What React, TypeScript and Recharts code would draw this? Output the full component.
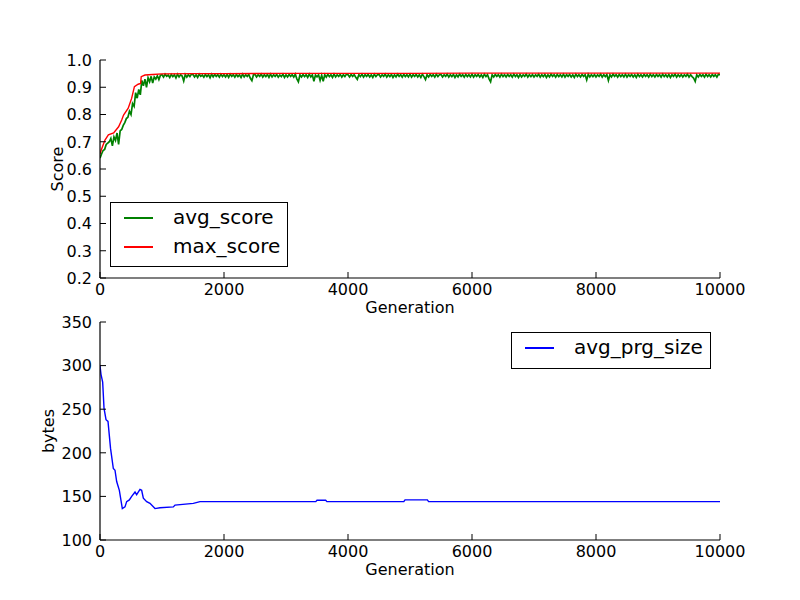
import { Legend, Line, LineChart, XAxis, YAxis } from 'recharts'

const FONT = '"DejaVu Sans", sans-serif'

const genTicks = [0, 2000, 4000, 6000, 8000, 10000]
const scoreTicks = [0.2, 0.3, 0.4, 0.5, 0.6, 0.7, 0.8, 0.9, 1.0]
const bytesTicks = [100, 150, 200, 250, 300, 350]

// avg_score, one sample every 25 generations, 0..975
const avgScoreEarly = [
  0.640, 0.655, 0.668, 0.672, 0.690, 0.695, 0.700, 0.712, 0.685, 0.718,
  0.705, 0.732, 0.690, 0.740, 0.745, 0.760, 0.770, 0.785, 0.790, 0.812,
  0.800, 0.840, 0.830, 0.880, 0.860, 0.892, 0.872, 0.925, 0.905, 0.930,
  0.900, 0.935, 0.920, 0.940, 0.915, 0.938, 0.930, 0.942, 0.928, 0.944,
]

// avg_score, one sample every 25 generations, 1000..10000
const avgScoreLate = [
  0.946, 0.937, 0.948, 0.940, 0.945, 0.936, 0.947, 0.939, 0.946, 0.934, 0.948, 0.938, 0.946, 0.941, 0.923, 0.947, 0.937, 0.946, 0.939, 0.948,
  0.947, 0.938, 0.946, 0.936, 0.948, 0.940, 0.945, 0.937, 0.947, 0.939, 0.946, 0.935, 0.948, 0.938, 0.947, 0.940, 0.946, 0.937, 0.948, 0.939,
  0.946, 0.938, 0.947, 0.936, 0.948, 0.940, 0.946, 0.937, 0.947, 0.939, 0.945, 0.936, 0.948, 0.938, 0.946, 0.940, 0.947, 0.933, 0.924, 0.946,
  0.947, 0.938, 0.946, 0.940, 0.948, 0.937, 0.946, 0.939, 0.947, 0.936, 0.948, 0.938, 0.946, 0.940, 0.947, 0.937, 0.945, 0.939, 0.948, 0.936,
  0.946, 0.938, 0.947, 0.940, 0.946, 0.937, 0.948, 0.931, 0.920, 0.946, 0.938, 0.947, 0.939, 0.946, 0.936, 0.948, 0.938, 0.946, 0.922, 0.945,
  0.938, 0.946, 0.925, 0.944, 0.922, 0.946, 0.937, 0.947, 0.939, 0.946, 0.936, 0.948, 0.938, 0.946, 0.940, 0.947, 0.937, 0.946, 0.939, 0.948,
  0.946, 0.938, 0.947, 0.940, 0.946, 0.937, 0.929, 0.946, 0.939, 0.948, 0.937, 0.946, 0.940, 0.947, 0.938, 0.946, 0.936, 0.948, 0.939, 0.946,
  0.947, 0.938, 0.946, 0.940, 0.948, 0.937, 0.946, 0.939, 0.947, 0.936, 0.946, 0.938, 0.948, 0.940, 0.946, 0.937, 0.947, 0.939, 0.946, 0.938,
  0.948, 0.937, 0.946, 0.940, 0.947, 0.938, 0.946, 0.936, 0.948, 0.939, 0.928, 0.946, 0.938, 0.947, 0.940, 0.946, 0.937, 0.948, 0.939, 0.946,
  0.947, 0.938, 0.946, 0.940, 0.948, 0.937, 0.946, 0.939, 0.947, 0.936, 0.946, 0.938, 0.948, 0.940, 0.946, 0.937, 0.947, 0.939, 0.946, 0.938,
  0.948, 0.937, 0.946, 0.940, 0.947, 0.938, 0.946, 0.936, 0.948, 0.939, 0.946, 0.931, 0.920, 0.946, 0.938, 0.947, 0.940, 0.946, 0.937, 0.948,
  0.939, 0.946, 0.938, 0.947, 0.940, 0.946, 0.937, 0.948, 0.939, 0.946, 0.936, 0.947, 0.938, 0.946, 0.940, 0.948, 0.937, 0.946, 0.939, 0.947,
  0.938, 0.946, 0.940, 0.948, 0.937, 0.946, 0.939, 0.947, 0.936, 0.946, 0.938, 0.948, 0.940, 0.946, 0.937, 0.947, 0.939, 0.946, 0.938, 0.948,
  0.937, 0.946, 0.940, 0.947, 0.938, 0.946, 0.936, 0.948, 0.939, 0.946, 0.938, 0.947, 0.940, 0.946, 0.927, 0.948, 0.938, 0.946, 0.939, 0.947,
  0.938, 0.946, 0.940, 0.948, 0.937, 0.946, 0.939, 0.947, 0.925, 0.946, 0.938, 0.948, 0.940, 0.946, 0.937, 0.947, 0.939, 0.946, 0.938, 0.948,
  0.937, 0.946, 0.940, 0.947, 0.938, 0.946, 0.936, 0.948, 0.939, 0.946, 0.938, 0.947, 0.940, 0.946, 0.937, 0.948, 0.939, 0.946, 0.938, 0.947,
  0.940, 0.946, 0.937, 0.948, 0.939, 0.946, 0.938, 0.947, 0.936, 0.946, 0.940, 0.948, 0.937, 0.946, 0.939, 0.947, 0.938, 0.946, 0.940, 0.948,
  0.937, 0.946, 0.939, 0.933, 0.921, 0.946, 0.938, 0.947, 0.940, 0.946, 0.937, 0.948, 0.939, 0.946, 0.938, 0.947, 0.940, 0.946, 0.937, 0.948,
  0.945,
]

const maxScoreGen = [
  0, 20, 80, 135, 220, 300, 350, 380, 455, 510, 555, 615, 655, 665, 725,
  850, 1000, 1500, 2000, 3000, 4000, 5000, 6000, 7000, 8000, 9000, 10000,
]
const maxScore = [
  0.655, 0.670, 0.706, 0.725, 0.732, 0.755, 0.780, 0.798, 0.823, 0.859, 0.902, 0.911, 0.914, 0.939, 0.945,
  0.947, 0.949, 0.950, 0.950, 0.951, 0.951, 0.951, 0.952, 0.952, 0.952, 0.952, 0.952,
]

const prgSizeGen = [
  0, 16, 43, 65, 97, 129, 170, 215, 242, 269, 312, 360, 403, 430, 473, 511, 565, 591, 645, 672,
  699, 753, 806, 887, 968, 1183, 1210, 1505, 1613, 1700, 3480, 3500, 3640, 3660, 4900, 4920,
  5280, 5300, 10000,
]
const avgPrgSize = [
  300, 290, 281, 251, 238, 236, 205, 182, 180, 167, 157, 136, 138, 144, 146, 150, 155, 152, 158, 157,
  148, 144, 142, 136, 137, 138, 140, 142, 144, 144, 144, 145.5, 145.5, 144, 144, 146,
  146, 144, 144,
]

const avgScoreData = [
  ...avgScoreEarly.map((v, i) => ({ gen: i * 25, avg_score: v })),
  ...avgScoreLate.map((v, i) => ({ gen: 1000 + i * 25, avg_score: v })),
]
const maxScoreData = maxScoreGen.map((g, i) => ({ gen: g, max_score: maxScore[i] }))
const prgSizeData = prgSizeGen.map((g, i) => ({ gen: g, avg_prg_size: avgPrgSize[i] }))

const TICK = 6

function BottomTick({ x, y, payload }: any) {
  return (
    <g>
      <line x1={x} y1={y} x2={x} y2={y - TICK} stroke="#000" />
      <text x={x} y={y + 17} textAnchor="middle" fontSize={16} fontFamily={FONT} fill="#000">
        {payload.value}
      </text>
    </g>
  )
}

function TopTick({ x, y }: any) {
  return <line x1={x} y1={y} x2={x} y2={y + TICK} stroke="#000" />
}

const leftTick = (fmt: (v: number) => string) => ({ x, y, payload }: any) => (
  <g>
    <line x1={x} y1={y} x2={x + TICK} y2={y} stroke="#000" />
    <text x={x - 8} y={y} dy="0.36em" textAnchor="end" fontSize={16} fontFamily={FONT} fill="#000">
      {fmt(payload.value)}
    </text>
  </g>
)

function RightTick({ x, y }: any) {
  return <line x1={x} y1={y} x2={x - TICK} y2={y} stroke="#000" />
}

const xTitle = (text: string) => ({ viewBox }: any) => (
  <text
    x={viewBox.x + viewBox.width / 2}
    y={viewBox.y + 35}
    textAnchor="middle"
    fontSize={16}
    fontFamily={FONT}
    fill="#000"
  >
    {text}
  </text>
)

const yTitle = (text: string, dx: number) => ({ viewBox }: any) => {
  const cx = viewBox.x + dx
  const cy = viewBox.y + viewBox.height / 2
  return (
    <text
      x={cx}
      y={cy}
      transform={`rotate(-90 ${cx} ${cy})`}
      textAnchor="middle"
      fontSize={16}
      fontFamily={FONT}
      fill="#000"
    >
      {text}
    </text>
  )
}

function LegendBox({ payload, width, height }: any) {
  return (
    <div
      style={{
        position: 'relative',
        width,
        height,
        boxSizing: 'border-box',
        border: '1px solid #000',
        background: '#fff',
        fontFamily: FONT,
        fontSize: 20,
        color: '#000',
      }}
    >
      {(payload || []).map((item: any, i: number) => {
        const cy = 15 + 29 * i
        return (
          <div key={item.value}>
            <div
              style={{
                position: 'absolute',
                left: 13,
                top: cy - 0.7,
                width: 29,
                height: 1.4,
                background: item.color,
              }}
            />
            <span
              style={{
                position: 'absolute',
                left: 62,
                top: cy - 13.5,
                lineHeight: '24px',
                whiteSpace: 'nowrap',
              }}
            >
              {item.value}
            </span>
          </div>
        )
      })}
    </div>
  )
}

const axisLine = { stroke: '#000', strokeWidth: 1.2 }

function Frame({ yTicks, yDomain, yFmt, yLabel, yLabelX, xHeight }: any) {
  return [
    <XAxis
      key="xb"
      xAxisId="b"
      type="number"
      dataKey="gen"
      domain={[0, 10000]}
      allowDataOverflow
      ticks={genTicks}
      interval={0}
      height={xHeight}
      tickSize={0}
      tickMargin={0}
      tickLine={false}
      axisLine={axisLine}
      tick={BottomTick}
      label={{ content: xTitle('Generation') }}
    />,
    <XAxis
      key="xt"
      xAxisId="t"
      orientation="top"
      type="number"
      dataKey="gen"
      domain={[0, 10000]}
      allowDataOverflow
      ticks={genTicks}
      interval={0}
      height={0}
      tickSize={0}
      tickMargin={0}
      tickLine={false}
      axisLine={axisLine}
      tick={TopTick}
    />,
    <YAxis
      key="yl"
      yAxisId="l"
      type="number"
      domain={yDomain}
      allowDataOverflow
      ticks={yTicks}
      interval={0}
      width={100}
      tickSize={0}
      tickMargin={0}
      tickLine={false}
      axisLine={axisLine}
      tick={leftTick(yFmt)}
      label={{ content: yTitle(yLabel, yLabelX) }}
    />,
    <YAxis
      key="yr"
      yAxisId="r"
      orientation="right"
      type="number"
      domain={yDomain}
      allowDataOverflow
      ticks={yTicks}
      interval={0}
      width={0}
      tickSize={0}
      tickMargin={0}
      tickLine={false}
      axisLine={axisLine}
      tick={RightTick}
    />,
  ]
}

export default function App() {
  return (
    <div
      style={{
        position: 'absolute',
        left: 0,
        top: 0,
        width: 800,
        height: 600,
        background: '#fff',
        fontFamily: FONT,
      }}
    >
      <div style={{ position: 'absolute', left: 0, top: 0 }}>
        <LineChart width={800} height={322} margin={{ top: 60, right: 80, bottom: 0, left: 0 }}>
          {Frame({
            yTicks: scoreTicks,
            yDomain: [0.2, 1.0],
            yFmt: (v: number) => v.toFixed(1),
            yLabel: 'Score',
            yLabelX: 63,
            xHeight: 44,
          })}
          <Line
            xAxisId="b"
            yAxisId="l"
            data={avgScoreData}
            dataKey="avg_score"
            name="avg_score"
            type="linear"
            stroke="#008000"
            strokeWidth={1.7}
            dot={false}
            isAnimationActive={false}
          />
          <Line
            xAxisId="b"
            yAxisId="l"
            data={maxScoreData}
            dataKey="max_score"
            name="max_score"
            type="linear"
            stroke="#ff0000"
            strokeWidth={1.4}
            dot={false}
            isAnimationActive={false}
          />
          <Legend
            layout="vertical"
            align="center"
            verticalAlign="middle"
            wrapperStyle={{ left: 110, top: 202, width: 178, height: 65 }}
            content={(p: any) => <LegendBox payload={p.payload} width={178} height={65} />}
          />
        </LineChart>
      </div>
      <div style={{ position: 'absolute', left: 0, top: 300 }}>
        <LineChart width={800} height={300} margin={{ top: 22, right: 80, bottom: 0, left: 0 }}>
          {Frame({
            yTicks: bytesTicks,
            yDomain: [100, 350],
            yFmt: (v: number) => String(v),
            yLabel: 'bytes',
            yLabelX: 54,
            xHeight: 60,
          })}
          <Line
            xAxisId="b"
            yAxisId="l"
            data={prgSizeData}
            dataKey="avg_prg_size"
            name="avg_prg_size"
            type="linear"
            stroke="#0000ff"
            strokeWidth={1.4}
            dot={false}
            isAnimationActive={false}
          />
          <Legend
            layout="vertical"
            align="center"
            verticalAlign="middle"
            wrapperStyle={{ left: 511, top: 32, width: 200, height: 37 }}
            content={(p: any) => <LegendBox payload={p.payload} width={200} height={37} />}
          />
        </LineChart>
      </div>
    </div>
  )
}
